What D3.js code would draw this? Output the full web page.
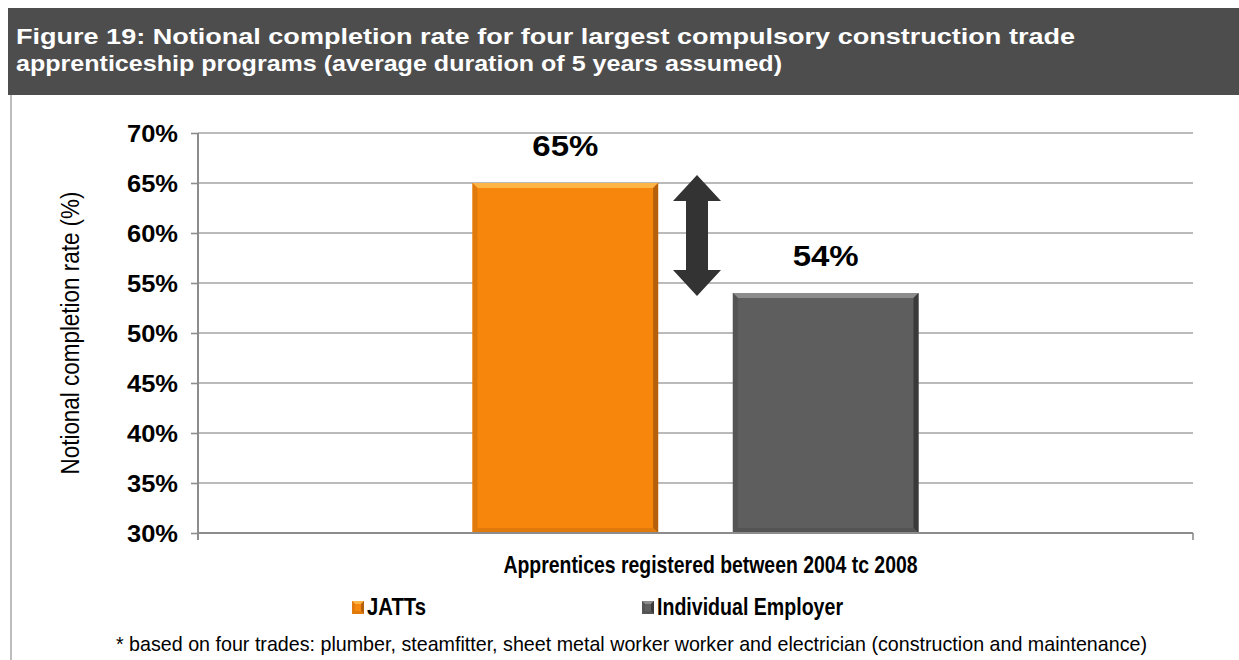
<!DOCTYPE html>
<html>
<head>
<meta charset="utf-8">
<script src="https://cdn.jsdelivr.net/npm/d3@7"></script>
<style>
  html, body { margin: 0; padding: 0; background: #ffffff; }
  svg { display: block; font-family: "Liberation Sans", Arial, sans-serif; }
</style>
</head>
<body>
<svg id="chart" width="1239" height="660"></svg>
<script>
// Chart data
const titleLines = [
  "Figure 19: Notional completion rate for four largest compulsory construction trade",
  "apprenticeship programs (average duration of 5 years assumed)"
];
const categories = ["Apprentices registered between 2004 tc 2008"];
const seriesNames = ["JATTs", "Individual Employer"];
const seriesValues = [65, 54];
const yTicks = [30, 35, 40, 45, 50, 55, 60, 65, 70];
const yAxisTitle = "Notional completion rate (%)";
const footnote = "* based on four trades: plumber, steamfitter, sheet metal worker worker and electrician (construction and maintenance)";

const palette = {
  JATTs: { base: "#F7870C", light: "#FDB547", dark: "#B5600A", mid: "#E07A0C" },
  "Individual Employer": { base: "#5E5E5E", light: "#8C8C8C", dark: "#3A3A3A", mid: "#545454" }
};

const svg = d3.select("#chart");

// Header band
svg.append("rect").attr("x", 8).attr("y", 8).attr("width", 1231).attr("height", 87).attr("fill", "#4D4D4D");
const titleBase = [44, 71];
const titleWidths = [1059, 766];
titleLines.forEach((t, i) => {
  svg.append("text")
    .attr("x", 16).attr("y", titleBase[i])
    .attr("fill", "#ffffff").attr("font-weight", "bold").attr("font-size", 22.5)
    .attr("textLength", titleWidths[i]).attr("lengthAdjust", "spacingAndGlyphs")
    .text(t);
});

// Panel border on the left
svg.append("line").attr("x1", 11).attr("x2", 11).attr("y1", 95).attr("y2", 660)
  .attr("stroke", "#BDBDBD").attr("stroke-width", 2);

// Plot area
const plot = { left: 198, right: 1193, top: 133, bottom: 533 };
const y = d3.scaleLinear().domain([30, 70]).range([plot.bottom, plot.top]);
const x0 = d3.scaleBand().domain(categories).range([plot.left, plot.right])
  .paddingInner(0.381).paddingOuter(0.381);
const x1 = d3.scaleBand().domain(seriesNames).range([0, x0.bandwidth()])
  .paddingInner(0.287).paddingOuter(0);

// Gridlines
const g = svg.append("g");
g.selectAll("line.grid").data(yTicks.filter(d => d > 30)).enter().append("line")
  .attr("class", "grid")
  .attr("x1", plot.left).attr("x2", plot.right)
  .attr("y1", d => y(d)).attr("y2", d => y(d))
  .attr("stroke", "#A3A3A3").attr("stroke-width", 1.6);

// Y axis
const yAxis = d3.axisLeft(y).tickValues(yTicks).tickSize(7).tickPadding(13)
  .tickFormat(d => d + "%");
const ya = svg.append("g").attr("transform", `translate(${plot.left},0)`).call(yAxis);
ya.select(".domain").remove();
ya.selectAll(".tick line").attr("stroke", "#8C8C8C").attr("stroke-width", 1.6);
ya.selectAll(".tick text")
  .attr("font-family", "'Liberation Sans', Arial, sans-serif")
  .attr("font-size", 23).attr("font-weight", "bold").attr("fill", "#000")
  .attr("dy", "0.36em")
  .attr("textLength", 51).attr("lengthAdjust", "spacingAndGlyphs");
svg.append("line").attr("x1", plot.left).attr("x2", plot.left)
  .attr("y1", plot.top).attr("y2", plot.bottom + 7)
  .attr("stroke", "#8C8C8C").attr("stroke-width", 2);

// End tick on the right of the x axis
svg.append("line").attr("x1", plot.right).attr("x2", plot.right)
  .attr("y1", plot.bottom).attr("y2", plot.bottom + 7)
  .attr("stroke", "#8C8C8C").attr("stroke-width", 1.6);

// Y axis title
svg.append("text")
  .attr("transform", `translate(79,${(plot.top + plot.bottom) / 2}) rotate(-90)`)
  .attr("text-anchor", "middle").attr("font-size", 25).attr("fill", "#000")
  .attr("textLength", 283).attr("lengthAdjust", "spacingAndGlyphs")
  .text(yAxisTitle);

// Bevelled bar
function bevelRect(parent, bx, by, bw, bh, c, b) {
  const grp = parent.append("g");
  grp.append("rect").attr("x", bx).attr("y", by).attr("width", bw).attr("height", bh).attr("fill", c.base);
  const pts = (arr) => arr.map(p => p.join(",")).join(" ");
  grp.append("polygon").attr("points", pts([[bx, by], [bx + bw, by], [bx + bw - b, by + b], [bx + b, by + b]]))
    .attr("fill", c.light);
  grp.append("polygon").attr("points", pts([[bx, by], [bx + b, by + b], [bx + b, by + bh - b], [bx, by + bh]]))
    .attr("fill", c.mid);
  grp.append("polygon").attr("points", pts([[bx + bw, by], [bx + bw, by + bh], [bx + bw - b, by + bh - b], [bx + bw - b, by + b]]))
    .attr("fill", c.dark);
  grp.append("polygon").attr("points", pts([[bx, by + bh], [bx + bw, by + bh], [bx + bw - b, by + bh - b], [bx + b, by + bh - b]]))
    .attr("fill", c.mid);
  return grp;
}

const bars = svg.append("g");
categories.forEach(cat => {
  seriesNames.forEach((s, i) => {
    const v = seriesValues[i];
    const bx = x0(cat) + x1(s);
    const by = y(v);
    bevelRect(bars, bx, by, x1.bandwidth(), y(30) - by, palette[s], 5);
    svg.append("text")
      .attr("x", bx + x1.bandwidth() / 2).attr("y", by - 27)
      .attr("text-anchor", "middle").attr("font-size", 30).attr("font-weight", "bold").attr("fill", "#000")
      .attr("textLength", 66).attr("lengthAdjust", "spacingAndGlyphs")
      .text(v + "%");
  });
});
// baseline drawn over bar bottoms
svg.append("line").attr("x1", plot.left).attr("x2", plot.right)
  .attr("y1", plot.bottom).attr("y2", plot.bottom)
  .attr("stroke", "#8C8C8C").attr("stroke-width", 2);

// Double-headed arrow marking the gap between the two series
(function () {
  const cx = x0(categories[0]) + x0.bandwidth() / 2 + 1.5;
  const top = y(seriesValues[0]) - 8;
  const bot = y(seriesValues[1]) + 3;
  const hw = 24, hh = 26, sw = 11;
  const path = d3.path();
  path.moveTo(cx, top);
  path.lineTo(cx + hw, top + hh);
  path.lineTo(cx + sw, top + hh);
  path.lineTo(cx + sw, bot - hh);
  path.lineTo(cx + hw, bot - hh);
  path.lineTo(cx, bot);
  path.lineTo(cx - hw, bot - hh);
  path.lineTo(cx - sw, bot - hh);
  path.lineTo(cx - sw, top + hh);
  path.lineTo(cx - hw, top + hh);
  path.closePath();
  svg.append("path").attr("d", path.toString()).attr("fill", "#333333");
})();

// Category label
svg.append("text")
  .attr("x", x0(categories[0]) + x0.bandwidth() / 2 + 15).attr("y", 573)
  .attr("text-anchor", "middle").attr("font-size", 24).attr("font-weight", "bold").attr("fill", "#000")
  .attr("textLength", 414).attr("lengthAdjust", "spacingAndGlyphs")
  .text(categories[0]);

// Legend
const legendItems = [
  { name: seriesNames[0], mx: 352, tx: 367, tw: 59 },
  { name: seriesNames[1], mx: 642, tx: 657, tw: 186 }
];
legendItems.forEach(it => {
  bevelRect(svg, it.mx, 601, 12, 13, palette[it.name], 3);
  svg.append("text")
    .attr("x", it.tx).attr("y", 615)
    .attr("font-size", 24).attr("font-weight", "bold").attr("fill", "#000")
    .attr("textLength", it.tw).attr("lengthAdjust", "spacingAndGlyphs")
    .text(it.name);
});

// Footnote
svg.append("text")
  .attr("x", 116).attr("y", 651)
  .attr("font-size", 21).attr("fill", "#000")
  .attr("textLength", 1031).attr("lengthAdjust", "spacingAndGlyphs")
  .text(footnote);
</script>
</body>
</html>
